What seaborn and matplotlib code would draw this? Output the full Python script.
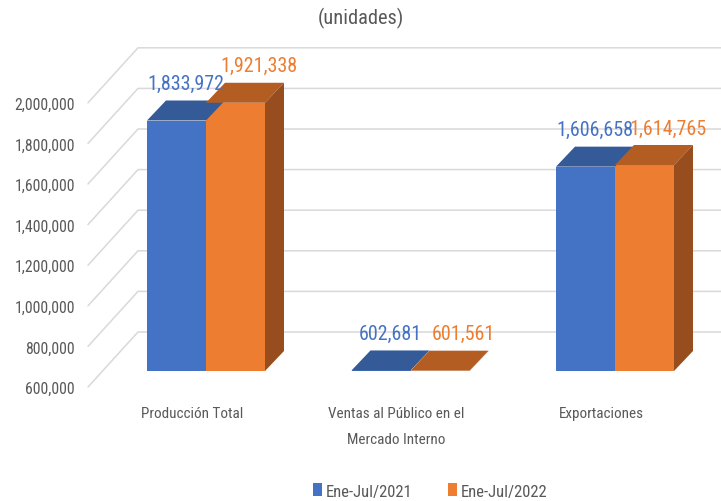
import matplotlib
matplotlib.use("Agg")
import matplotlib.pyplot as plt
from matplotlib.patches import Polygon
from matplotlib.transforms import ScaledTranslation
import numpy as np
import pandas as pd
import seaborn as sns

# datos
categorias = ["Producción Total", "Ventas al Público en el\nMercado Interno", "Exportaciones"]
periodos = ["Ene-Jul/2021", "Ene-Jul/2022"]
valores_2021 = [1833972, 602681, 1606658]
valores_2022 = [1921338, 601561, 1614765]
ticks_y = [600000, 800000, 1000000, 1200000, 1400000, 1600000, 1800000, 2000000]
titulo = "(unidades)"

sns.set_theme(style="white")
plt.rcParams["font.family"] = ["Roboto Condensed", "Liberation Sans", "DejaVu Sans"]

azul, naranja = "#4472c4", "#ed7d31"
techo = {azul: "#345a97", naranja: "#b45d22"}
lado = "#974d1d"
gris = "#595959"
linea = "#d9d9d9"

df = pd.DataFrame({
    "categoria": categorias * 2,
    "periodo": [periodos[0]] * 3 + [periodos[1]] * 3,
    "valor": valores_2021 + valores_2022,
})

fig = plt.figure(figsize=(7.21, 5.02), dpi=100)
# geometria (pixeles)
W, H = 721, 502
ax_left, ax_bottom_px, ax_top_px = 88, 372, 40
px_por_unidad = 40.6 / 200000
px_por_cat = 204.5
ax = fig.add_axes([ax_left / W, (H - ax_bottom_px) / H, (W - ax_left) / W, (ax_bottom_px - ax_top_px) / H])

sns.barplot(data=df, x="categoria", y="valor", hue="periodo", palette=[azul, naranja],
            width=0.577, saturation=1, errorbar=None, linewidth=0, ax=ax)

y0 = 600000
ax.set_ylim(y0, y0 + (ax_bottom_px - ax_top_px) / px_por_unidad)
x0 = -(206 - ax_left) / px_por_cat
ax.set_xlim(x0, x0 + (W - ax_left) / px_por_cat)
ax.set_xlabel("")
ax.set_ylabel("")
for s in ax.spines.values():
    s.set_visible(False)

# profundidad
dx = 19 / px_por_cat
dy = 20 / px_por_unidad
u = 1 / px_por_unidad

# lineas de la cuadricula (pared del fondo + piso lateral)
x_front, x_back = x0, x0 + 50 / px_por_cat
for v in ticks_y:
    ax.plot([x_front, x_back, ax.get_xlim()[1]], [v - 16 * u, v + 39 * u, v + 39 * u],
            color=linea, lw=1.1, clip_on=False, zorder=0)

# caras 3D
barras = [p for p in ax.patches if p.get_height() > 0]
for p in barras:
    x, w, top = p.get_x(), p.get_width(), p.get_height()
    col = matplotlib.colors.to_hex(p.get_facecolor())
    ax.add_patch(Polygon([(x, top), (x + dx, top + dy), (x + w + dx, top + dy), (x + w, top)],
                         closed=True, facecolor=techo.get(col, col), lw=0, zorder=3, clip_on=False))
    if col == naranja:
        ax.add_patch(Polygon([(x + w, y0), (x + w, top), (x + w + dx, top + dy), (x + w + dx, y0 + dy)],
                             closed=True, facecolor=lado, lw=0, zorder=3, clip_on=False))
    off = 9 if col == azul else 23
    ax.annotate(f"{int(round(top)):,}", (x + w / 2, top), xytext=(off, 37), textcoords="offset pixels",
                ha="center", va="center", color=col, fontsize=14.4, zorder=5, annotation_clip=False)

ax.set_yticks(ticks_y)
ax.set_yticklabels([f"{t:,}" for t in ticks_y])
ax.tick_params(axis="y", length=0, pad=9.4, labelsize=11.3, labelcolor=gris)
ax.tick_params(axis="x", length=0, pad=25, labelsize=10.9, labelcolor=gris)
for lbl in ax.get_yticklabels():
    lbl.set_transform(lbl.get_transform() + ScaledTranslation(0, -0.16, fig.dpi_scale_trans))
for lbl in ax.get_xticklabels():
    lbl.set_transform(lbl.get_transform() + ScaledTranslation(-0.14, 0, fig.dpi_scale_trans))
    lbl.set_linespacing(2.1)

fig.text(0.5, 1 - 18 / H, titulo, ha="center", va="center", color=gris, fontsize=14.7)

sns.move_legend(ax, "center", bbox_to_anchor=(430 / W, 10 / H), bbox_transform=fig.transFigure,
                ncol=2, frameon=False, title=None, fontsize=12.0, handlelength=0.55,
                handleheight=0.8, handletextpad=0.25, columnspacing=2.1, labelcolor=gris)

fig.savefig("out.png", dpi=100)
